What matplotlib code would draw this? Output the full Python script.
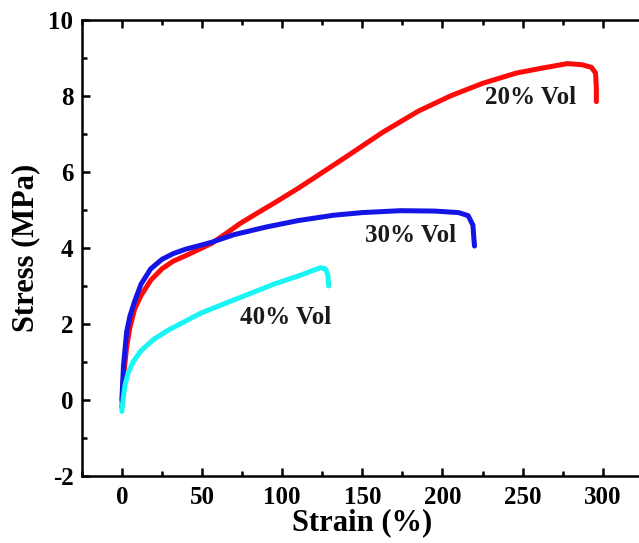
import matplotlib
matplotlib.use('Agg')
import matplotlib.pyplot as plt
from matplotlib.ticker import MultipleLocator

# values
strain_20 = [0, 1, 3, 5, 8, 12, 18, 25, 32, 40, 50, 56, 65, 74, 85, 95, 110, 122,
             140, 163, 185, 205, 225, 246, 262, 278, 287, 293, 295.5, 296, 296]
stress_20 = [-0.2, 0.6, 1.4, 1.9, 2.4, 2.75, 3.15, 3.45, 3.65, 3.8, 4.0, 4.12, 4.38,
             4.65, 4.93, 5.18, 5.57, 5.9, 6.4, 7.05, 7.6, 8.0, 8.33, 8.6, 8.73,
             8.85, 8.82, 8.75, 8.6, 8.2, 7.85]

strain_30 = [0, 1, 3, 5, 8, 12, 18, 25, 32, 40, 50, 56, 70, 90, 110, 132, 150, 174,
             195, 210, 216, 219, 219.5, 220]
stress_30 = [0, 0.9, 1.8, 2.2, 2.6, 3.05, 3.45, 3.7, 3.85, 3.97, 4.08, 4.15, 4.35,
             4.55, 4.72, 4.86, 4.93, 4.98, 4.97, 4.93, 4.85, 4.6, 4.3, 4.05]

strain_40 = [0, 1, 2, 4, 7, 12, 20, 29, 40, 49, 65, 80, 95, 112, 120, 124, 127,
             128.5, 129]
stress_40 = [-0.3, 0.1, 0.4, 0.72, 1.0, 1.3, 1.6, 1.84, 2.08, 2.28, 2.55, 2.8, 3.05,
             3.29, 3.42, 3.48, 3.45, 3.3, 3.0]

labels = ['20% Vol', '30% Vol', '40% Vol']
label_pos = [(255, 7.97), (180, 4.34), (102, 2.16)]

font = 'Liberation Serif'
plt.rcParams['axes.unicode_minus'] = False

fig = plt.figure(figsize=(6.39, 5.43), dpi=100)
ax = fig.add_axes([0.128, 0.1234, 0.878, 0.840])

line_kw = dict(lw=3.6, solid_joinstyle='round', solid_capstyle='round')
ax.plot(strain_20, stress_20, c='#ff0a0a', **line_kw)
ax.plot(strain_30, stress_30, c='#1414e6', **line_kw)
ax.plot(strain_40, stress_40, c='#19f5f5', **line_kw)

for txt, (x, y) in zip(labels, label_pos):
    ax.text(x, y, txt, ha='center', va='center', fontsize=18,
            fontweight='bold', family=font, color='#1a1a1a')

ax.set_xlim(-25, 325)
ax.set_ylim(-2, 10)
ax.xaxis.set_major_locator(MultipleLocator(50))
ax.xaxis.set_minor_locator(MultipleLocator(25))
ax.yaxis.set_major_locator(MultipleLocator(2))
ax.yaxis.set_minor_locator(MultipleLocator(1))
ax.tick_params(which='both', direction='in', top=True, right=False, width=1.8)
ax.tick_params(which='major', length=6)
ax.tick_params(which='minor', length=3.5)

for lab in ax.get_xticklabels() + ax.get_yticklabels():
    lab.set_fontfamily(font)
    lab.set_fontweight('bold')
    lab.set_fontsize(18)
ax.tick_params(axis='x', pad=7)
ax.tick_params(axis='y', pad=6)

for spine in ax.spines.values():
    spine.set_linewidth(1.8)

ax.set_xlabel('Strain (%)', fontsize=22, fontweight='bold', family=font, labelpad=0)
ax.set_ylabel('Stress (MPa)', fontsize=22, fontweight='bold', family=font, labelpad=6)

plt.savefig('out.png', dpi=100)
plt.close()
